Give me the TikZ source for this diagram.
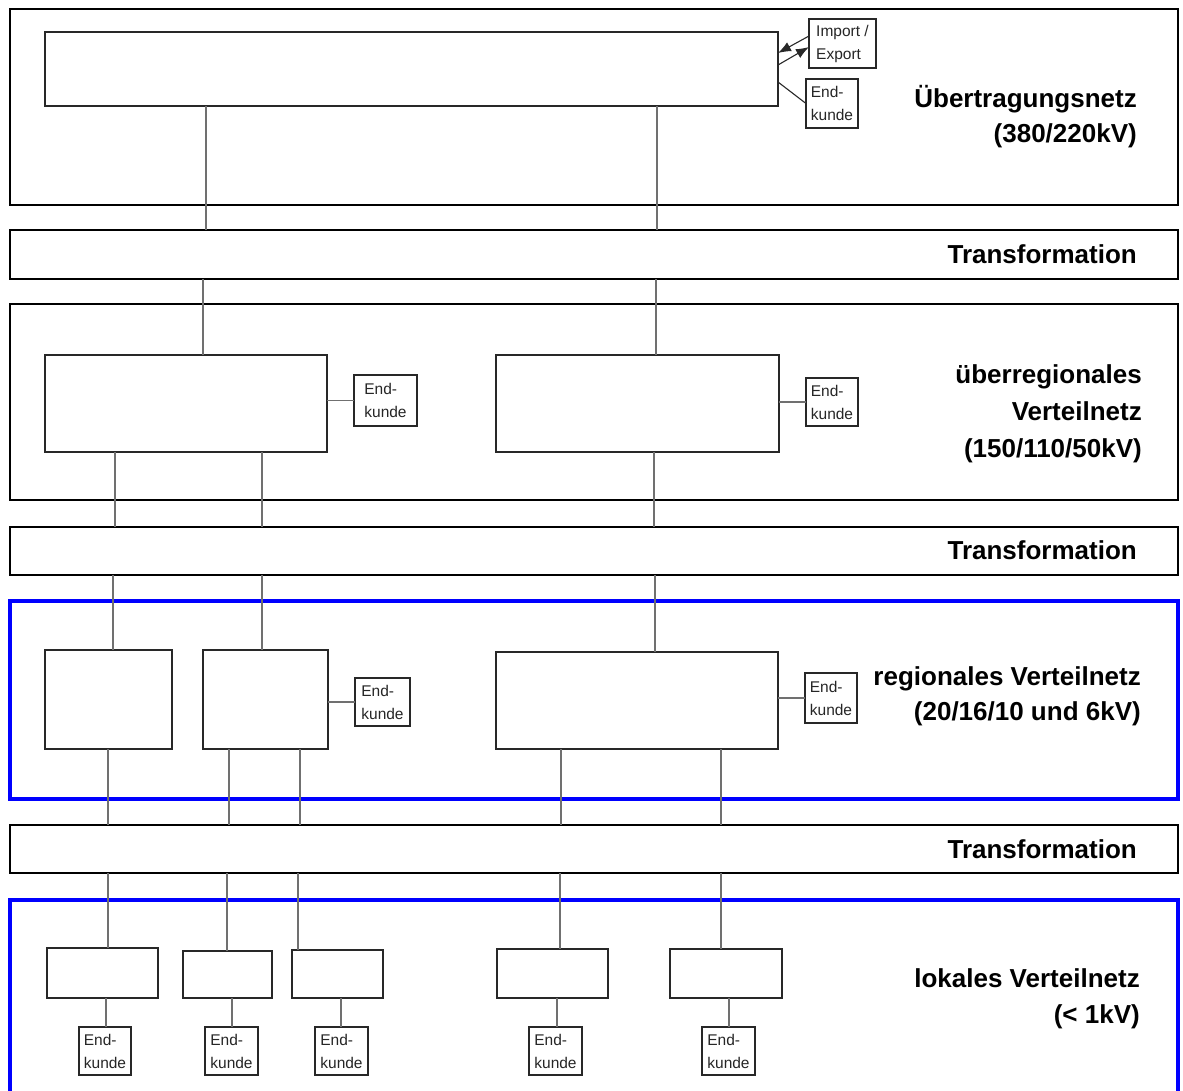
\documentclass[tikz,border=0pt]{standalone}
\usepackage{fontspec}
\setmainfont{Liberation Sans}
\usetikzlibrary{arrows.meta}
\definecolor{netzblau}{RGB}{0,0,255}
\definecolor{leitung}{RGB}{112,112,112}
\definecolor{kante}{RGB}{40,40,40}

% rectangle node from its corner (x1,y1) to (x2,y2)
\newcommand{\rectnode}[6]{\node[#1, anchor=north west, minimum width={(#5)-(#3)},
  minimum height={(#6)-(#4)}] (#2) at (#3,#4) {};}
% end customer box: name, x1, y1, x2, y2, text
\newcommand{\kundenode}[6]{\node[kunde, anchor=north west, minimum width={(#4)-(#2)},
  minimum height={(#5)-(#3)}] (#1) at (#2,#3) {#6};}

\tikzset{
  frame/.style={draw=black, line width=2.8pt, inner sep=0pt, outer sep=0pt},
  blueframe/.style={draw=netzblau, line width=3.6pt, inner sep=0pt, outer sep=0pt},
  trafo/.style={draw=black, line width=2.8pt, inner sep=0pt, outer sep=0pt},
  netbox/.style={draw=kante, line width=1.2pt, inner sep=0pt, outer sep=0pt},
  kunde/.style={draw=kante, line width=1.1pt, inner sep=2pt, outer sep=0pt,
    align=left, text=black!85, font=\fontsize{15.5}{23}\selectfont},
  conn/.style={draw=leitung, line width=1.4pt},
  lbl/.style={inner sep=0pt, font=\fontsize{26}{36}\selectfont\bfseries},
  pfeil/.style={draw=kante, line width=1.1pt, -{Latex[length=13pt,width=10pt]}}
}

\begin{document}
\begin{tikzpicture}[x=1pt, y=-1pt]
\useasboundingbox (0,0) rectangle (1183,1090);
\fill[white] (0,0) rectangle (1183,1090);
\clip (0,0) rectangle (1183,1090);

% --- voltage levels and transformation bars
\rectnode{frame}{ue}{10}{9}{1178}{205}
\rectnode{trafo}{t1}{10}{230}{1178}{279}
\rectnode{frame}{ueb}{10}{304}{1178}{500}
\rectnode{trafo}{t2}{10}{527}{1178}{575}
\rectnode{blueframe}{reg}{10}{601}{1178}{799}
\rectnode{trafo}{t3}{10}{825}{1178}{873}
\rectnode{blueframe}{lok}{10}{900}{1178}{1110}

% --- labels
\node[lbl, anchor=base east] (lab1a) at (1137,107) {Übertragungsnetz};
\node[lbl, anchor=base east] (lab1b) at (1137,142) {(380/220kV)};
\node[lbl, anchor=base east] (tr1) at (1137,263) {Transformation};
\node[lbl, anchor=base east] (lab2a) at (1142,383) {überregionales};
\node[lbl, anchor=base east] (lab2b) at (1142,420) {Verteilnetz};
\node[lbl, anchor=base east] (lab2c) at (1142,457) {(150/110/50kV)};
\node[lbl, anchor=base east] (tr2) at (1137,559) {Transformation};
\node[lbl, anchor=base east] (lab3a) at (1141,685) {regionales Verteilnetz};
\node[lbl, anchor=base east] (lab3b) at (1141,720) {(20/16/10 und 6kV)};
\node[lbl, anchor=base east] (tr3) at (1137,858) {Transformation};
\node[lbl, anchor=base east] (lab4a) at (1140,987) {lokales Verteilnetz};
\node[lbl, anchor=base east] (lab4b) at (1140,1023) {(< 1kV)};

% --- x positions of the vertical lines
\foreach \n/\x in {a/206, b/657, c/203, d/656, e/115, f/262, g/654, h/113,
  i/262, j/655, k/108, l/229, m/300, n/561, o/721, p/108, q/227, r/298,
  s/560, u/721, v/106, w/232, y/341, z/557, zz/729}
  \coordinate (x\n) at (\x,0);

% --- network boxes
\rectnode{netbox}{top}{45}{32}{778}{106}
\rectnode{netbox}{A}{45}{355}{327}{452}
\rectnode{netbox}{B}{496}{355}{779}{452}
\rectnode{netbox}{C}{45}{650}{172}{749}
\rectnode{netbox}{D}{203}{650}{328}{749}
\rectnode{netbox}{E}{496}{652}{778}{749}
\rectnode{netbox}{F}{47}{948}{158}{998}
\rectnode{netbox}{G}{183}{951}{272}{998}
\rectnode{netbox}{H}{292}{950}{383}{998}
\rectnode{netbox}{I}{497}{949}{608}{998}
\rectnode{netbox}{J}{670}{949}{782}{998}

% --- connections between the levels
\draw[conn] (top.south -| xa) -- (t1.north -| xa);
\draw[conn] (top.south -| xb) -- (t1.north -| xb);
\draw[conn] (t1.south -| xc) -- (A.north -| xc);
\draw[conn] (t1.south -| xd) -- (B.north -| xd);
\draw[conn] (A.south -| xe) -- (t2.north -| xe);
\draw[conn] (A.south -| xf) -- (t2.north -| xf);
\draw[conn] (B.south -| xg) -- (t2.north -| xg);
\draw[conn] (t2.south -| xh) -- (C.north -| xh);
\draw[conn] (t2.south -| xi) -- (D.north -| xi);
\draw[conn] (t2.south -| xj) -- (E.north -| xj);
\draw[conn] (C.south -| xk) -- (t3.north -| xk);
\draw[conn] (D.south -| xl) -- (t3.north -| xl);
\draw[conn] (D.south -| xm) -- (t3.north -| xm);
\draw[conn] (E.south -| xn) -- (t3.north -| xn);
\draw[conn] (E.south -| xo) -- (t3.north -| xo);
\draw[conn] (t3.south -| xp) -- (F.north -| xp);
\draw[conn] (t3.south -| xq) -- (G.north -| xq);
\draw[conn] (t3.south -| xr) -- (H.north -| xr);
\draw[conn] (t3.south -| xs) -- (I.north -| xs);
\draw[conn] (t3.south -| xu) -- (J.north -| xu);

% --- end customers and import / export
\node[kunde, anchor=north west, minimum width=67, minimum height=49]
  (imp) at (809,19) {Import /\\Export};
\kundenode{k0}{806}{79}{858}{128}{End-\\kunde}
\kundenode{kA}{354}{375}{417}{426}{End-\\kunde}
\kundenode{kB}{806}{378}{858}{426}{End-\\kunde}
\kundenode{kD}{355}{678}{410}{726}{End-\\kunde}
\kundenode{kE}{805}{673}{857}{723}{End-\\kunde}
\kundenode{kF}{79}{1027}{131}{1075}{End-\\kunde}
\kundenode{kG}{205}{1027}{258}{1075}{End-\\kunde}
\kundenode{kH}{315}{1027}{368}{1075}{End-\\kunde}
\kundenode{kI}{529}{1027}{582}{1075}{End-\\kunde}
\kundenode{kJ}{702}{1027}{755}{1075}{End-\\kunde}

\draw[pfeil] ([yshift=7.5pt]imp.west) -- ([yshift=16pt]top.east);
\draw[pfeil] ([yshift=4pt]top.east) -- ([yshift=-3.5pt]imp.west);
\draw[conn, draw=kante, line width=1.1pt] ([yshift=-13pt]top.east) -- (k0.west);
\draw[conn] (A.east |- kA.west) -- (kA.west);
\draw[conn] (B.east |- kB.west) -- (kB.west);
\draw[conn] (D.east |- kD.west) -- (kD.west);
\draw[conn] (E.east |- kE.west) -- (kE.west);
\draw[conn] (F.south -| xv) -- (kF.north -| xv);
\draw[conn] (G.south -| xw) -- (kG.north -| xw);
\draw[conn] (H.south -| xy) -- (kH.north -| xy);
\draw[conn] (I.south -| xz) -- (kI.north -| xz);
\draw[conn] (J.south -| xzz) -- (kJ.north -| xzz);
\end{tikzpicture}
\end{document}
